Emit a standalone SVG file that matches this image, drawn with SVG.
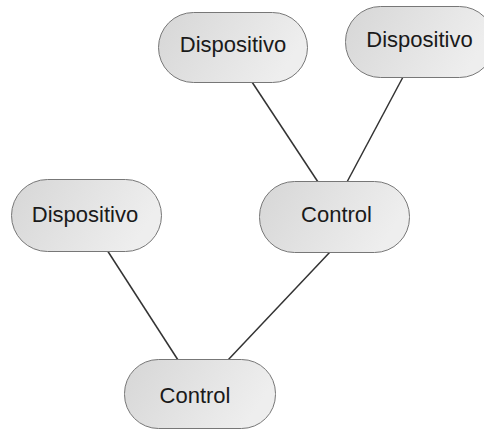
<svg xmlns="http://www.w3.org/2000/svg" width="484" height="430" viewBox="0 0 484 430">
<defs>
<linearGradient id="g" x1="0" y1="0" x2="1" y2="0.3">
<stop offset="0" stop-color="#d6d6d6"/>
<stop offset="1" stop-color="#eeeeee"/>
</linearGradient>
<style>
.n{fill:url(#g);stroke:#777;stroke-width:1}
.t{font-family:"Liberation Sans",Arial,sans-serif;font-size:22px;fill:#1a1a1a;text-anchor:middle}
.e{stroke:#333;stroke-width:1.5;fill:none}
</style>
</defs>
<rect width="484" height="430" fill="#fff"/>
<g id="connectors">
<line class="e" x1="252" y1="82" x2="318" y2="182"/>
<line class="e" x1="403" y1="77" x2="347" y2="182"/>
<line class="e" x1="107" y1="250" x2="178" y2="360"/>
<line class="e" x1="330" y1="252" x2="228" y2="360"/>
</g>
<g id="dispositivo1"><rect class="n" x="158.5" y="12.5" width="149" height="70" rx="35"/><text class="t" x="233" y="52">Dispositivo</text></g>
<g id="dispositivo2"><rect class="n" x="345.5" y="6.5" width="149" height="71" rx="35"/><text class="t" x="419.5" y="46.5">Dispositivo</text></g>
<g id="dispositivo3"><rect class="n" x="11.5" y="179.5" width="150" height="72" rx="36"/><text class="t" x="85" y="222">Dispositivo</text></g>
<g id="control1"><rect class="n" x="259.5" y="181.5" width="150" height="71" rx="35"/><text class="t" x="336.5" y="222">Control</text></g>
<g id="control2"><rect class="n" x="124.5" y="359.5" width="151" height="69" rx="34"/><text class="t" x="195" y="403">Control</text></g>
</svg>
